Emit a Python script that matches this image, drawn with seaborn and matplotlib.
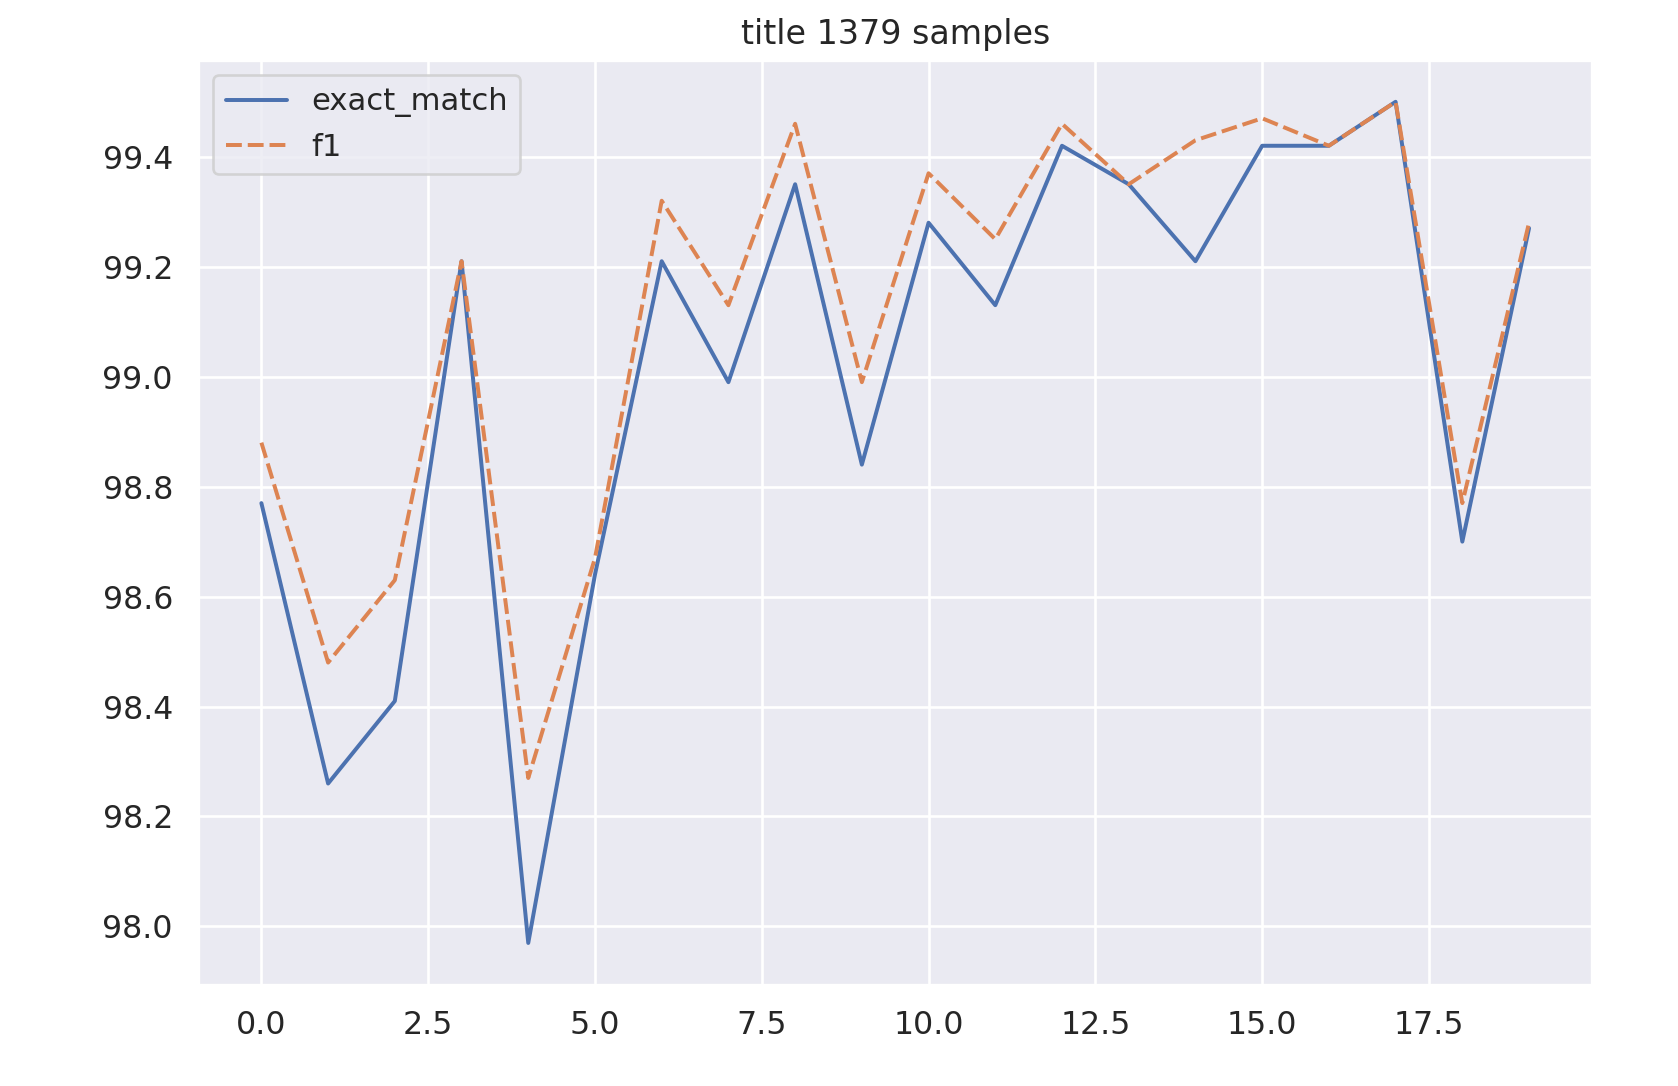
import matplotlib
matplotlib.use("Agg")
import matplotlib.pyplot as plt
import pandas as pd
import seaborn as sns

steps = list(range(20))
exact_match = [98.77, 98.26, 98.41, 99.21, 97.97, 98.64, 99.21, 98.99, 99.35, 98.84,
               99.28, 99.13, 99.42, 99.35, 99.21, 99.42, 99.42, 99.50, 98.70, 99.27]
f1 = [98.88, 98.48, 98.63, 99.21, 98.27, 98.67, 99.32, 99.13, 99.46, 98.99,
      99.37, 99.25, 99.46, 99.35, 99.43, 99.47, 99.42, 99.50, 98.77, 99.28]
n_samples = 1379

sns.set_theme()

df = pd.DataFrame({"exact_match": exact_match, "f1": f1}, index=steps)

fig = plt.figure(figsize=(1678 / 190, 1086 / 190), dpi=190)
ax = fig.add_axes([0.118, 0.093, 0.831, 0.852])
sns.lineplot(data=df, ax=ax)
ax.set_title(f"title {n_samples} samples", fontsize=12.6)
ax.tick_params(labelsize=12)
ax.legend(loc="upper left", fontsize=11.6)

fig.savefig("out.png", dpi=190)
